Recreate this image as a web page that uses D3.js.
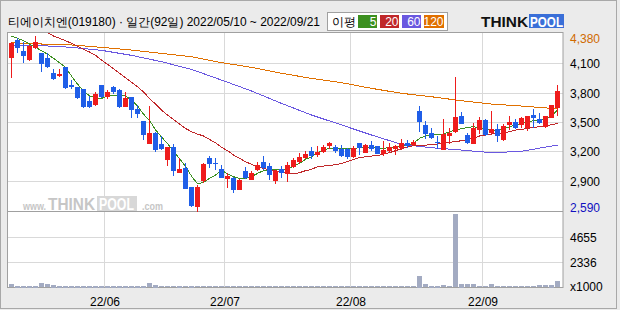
<!DOCTYPE html>
<html>
<head>
<meta charset="utf-8">
<script src="https://cdn.jsdelivr.net/npm/d3@7"></script>
<style>
  body { margin: 0; background: #fff; }
  text { font-family: "Liberation Sans", Arial, sans-serif; }
</style>
</head>
<body>
<svg width="620" height="310"></svg>
<script>
'use strict';

// daily candles 2022/05/10 ~ 2022/09/21 (92 trading days)
const open = [4168,4339,4226,4141,4271,4209,4158,4004,3977,4059, 3875,3854,3834,3717,3680,3878,3765,3854,3827,3666,
  3752,3632,3509,3287,3383,3274,3117,3240,2990,3025, 2830,2642,2905,3134,3080,3014,2926,2922,2816,2997,
  2919,3014,3090,3048,2905,3014,2980,3048,3103,3141, 3202,3171,3202,3267,3243,3226,3223,3151,3281,3195,
  3263,3253,3185,3212,3236,3240,3281,3274,3612,3465, 3383,3294,3219,3366,3410,3560,3362,3287,3431,3520,
  3400,3431,3321,3479,3499,3475,3451,3571,3526,3458, 3554,3656];
const high = [4322,4356,4322,4288,4380,4209,4202,4038,4038,4059, 3929,3854,3834,3765,3810,3878,3827,3868,3834,3810,
  3758,3673,3509,3663,3400,3356,3246,3274,3127,3083, 2837,2854,3083,3151,3134,3059,2973,2939,2919,3035,
  3001,3093,3151,3076,3008,3048,3093,3134,3178,3202, 3246,3253,3263,3298,3263,3263,3229,3253,3287,3270,
  3304,3253,3304,3281,3263,3321,3315,3315,3663,3513, 3434,3356,3526,3434,3963,3605,3390,3485,3547,3526,
  3612,3479,3479,3560,3526,3554,3560,3632,3595,3560, 3673,3878];
const low = [3963,4219,4117,4134,4260,4025,4066,3936,3970,3844, 3844,3741,3649,3656,3673,3758,3741,3793,3656,3663,
  3554,3547,3325,3281,3206,3223,3059,2956,2990,2820, 2639,2590,2888,3042,3014,2939,2837,2786,2813,2922,
  2915,3008,3014,2912,2871,2939,2898,3042,3076,3127, 3127,3151,3195,3229,3195,3154,3134,3144,3168,3188,
  3212,3178,3161,3195,3171,3226,3246,3267,3410,3339, 3332,3229,3219,3287,3400,3485,3281,3287,3383,3366,
  3390,3304,3315,3424,3441,3451,3417,3451,3485,3451, 3547,3571];
const close = [4311,4264,4185,4281,4315,4107,4076,3953,3991,3861, 3868,3758,3663,3663,3782,3765,3803,3820,3663,3748,
  3629,3588,3376,3383,3223,3229,3240,3008,3014,2827, 2649,2830,3066,3076,3076,2939,2950,2816,2905,2939,
  2973,3059,3042,2963,2997,2990,3059,3110,3144,3171, 3161,3192,3246,3287,3216,3161,3151,3236,3246,3263,
  3229,3185,3212,3246,3257,3281,3263,3298,3513,3390, 3349,3291,3376,3383,3547,3492,3298,3441,3520,3373,
  3427,3362,3458,3502,3451,3543,3560,3554,3496,3560, 3673,3820];
// volume, x1000 shares
const volume = [280,170,170,170,170,380,300,250,180,180, 180,180,180,180,150,150,150,150,150,150,
  150,150,150,380,240,130,130,130,150,130, 150,130,130,120,120,120,120,110,110,110,
  110,110,110,110,110,110,110,110,110,110, 110,110,110,110,110,110,110,110,110,110,
  110,110,110,110,110,110,110,110,1110,280, 150,150,220,100,6800,370,280,280,130,130,
  280,130,130,130,100,100,130,100,190,190, 250,560];

// moving averages
const ma5 = [4380,4356,4332,4298,4264,4230,4195,4151,4107,4059, 3970,3888,3820,3765,3748,3741,3765,3772,3776,3765,
  3724,3665,3580,3515,3420,3345,3280,3200,3125,3045, 2945,2866,2880,2922,2956,3008,2967,2939,2922,2922,
  2939,2973,3001,3008,3008,3014,3014,3048,3076,3117, 3140,3185,3212,3229,3229,3229,3226,3229,3236,3240,
  3240,3236,3229,3240,3246,3257,3263,3281,3332,3356, 3373,3373,3376,3400,3417,3431,3444,3451,3441,3424,
  3417,3417,3431,3451,3468,3480,3502,3513,3520,3537, 3560,3622];
const ma20 = [null,null,null,null,null,null,4414,4380,4356,4332, 4305,4277,4243,4216,4182,4134,4090,4045,3998,3953,
  3905,3861,3807,3741,3683,3622,3571,3526,3479,3434, 3400,3376,3356,3321,3287,3240,3206,3161,3127,3093,
  3066,3042,3025,3008,3001,2990,2967,2967,2980,3001, 3014,3042,3048,3055,3062,3076,3093,3117,3134,3144,
  3151,3154,3171,3185,3206,3226,3246,3257,3263,3263, 3267,3274,3281,3291,3298,3308,3321,3332,3356,3366,
  3376,3383,3390,3400,3417,3424,3434,3444,3451,3458, 3472,3485];
const maLongIdx = [0,5,10,15,20,25,30,35,40,45,50,55,60,65,70,75,80,85,90,91];
const ma60 = [4288,4281,4264,4233,4182,4117,4038,3929,3817,3690,3571,3469,3366,3270,3236,3212,3185,3199,3253,3263];
const ma120 = [4311,4298,4288,4264,4236,4202,4168,4107,4059,3998,3946,3902,3844,3793,3758,3717,3683,3663,3639,3636];

const monthIdx = [16, 36, 57, 79];
const monthLabels = ['22/06', '22/07', '22/08', '22/09'];
const priceGrid = [4100, 3800, 3500, 3200, 2900];
const priceMax = 4380, priceMin = 2590;
const volTicks = [4655, 2336];

const svg = d3.select('svg');
const W = 620, H = 310;
const pL = 8, pR = 563, pT = 33, pSep = 211.5, pB = 287.5;

const red = '#ee1c1c', blue = '#1f5ee8';

svg.append('rect').attr('width', W).attr('height', H).attr('fill', '#ebebeb');
svg.append('rect').attr('x', 0.5).attr('y', 0.5).attr('width', 616).attr('height', 308)
  .attr('fill', 'none').attr('stroke', '#a8a8a8');
svg.append('rect').attr('x', pL).attr('y', pT).attr('width', pR - pL).attr('height', pB - pT)
  .attr('fill', '#fff');

const x = d3.scaleBand().domain(d3.range(close.length)).range([pL, pL + 6 * close.length]);
const y = d3.scaleLinear().domain([priceMin, priceMax]).range([210.8, 36]);
const yv = d3.scaleLinear().domain([0, 4655]).range([pB, 237.3]);
const cx = i => x(i) + 3.5;

const grid = svg.append('g').attr('stroke', '#d9d9d9').attr('shape-rendering', 'crispEdges');
grid.selectAll('.hp').data(priceGrid).join('line')
  .attr('x1', pL).attr('x2', pR)
  .attr('y1', d => Math.round(y(d)) + 0.5).attr('y2', d => Math.round(y(d)) + 0.5);
grid.selectAll('.hv').data(volTicks).join('line')
  .attr('x1', pL).attr('x2', pR)
  .attr('y1', d => Math.round(yv(d)) + 0.5).attr('y2', d => Math.round(yv(d)) + 0.5);
grid.selectAll('.vm').data(monthIdx).join('line')
  .attr('x1', d => x(d) + 0.5).attr('x2', d => x(d) + 0.5)
  .attr('y1', pT).attr('y2', pB);

// watermark
const wm = svg.append('g').attr('fill', '#c6c6c6');
wm.append('text').attr('x', 23).attr('y', 210).attr('font-size', 10).attr('font-weight', 'bold')
  .attr('textLength', 23).attr('lengthAdjust', 'spacingAndGlyphs').text('www.');
wm.append('text').attr('x', 48).attr('y', 210).attr('font-size', 16).attr('font-weight', 900)
  .attr('font-family', 'DejaVu Sans').attr('textLength', 47).attr('lengthAdjust', 'spacingAndGlyphs').text('THINK');
wm.append('rect').attr('x', 97).attr('y', 196).attr('width', 40).attr('height', 15).attr('fill', '#d8d8d8');
wm.append('text').attr('x', 99).attr('y', 210).attr('font-size', 16).attr('font-weight', 900)
  .attr('font-family', 'DejaVu Sans').attr('fill', '#fff').attr('textLength', 35).attr('lengthAdjust', 'spacingAndGlyphs').text('POOL');
wm.append('text').attr('x', 142).attr('y', 210).attr('font-size', 10).attr('font-weight', 'bold')
  .attr('textLength', 21).attr('lengthAdjust', 'spacingAndGlyphs').text('.com');

// separator and frame
svg.append('line').attr('x1', pL).attr('x2', pR).attr('y1', pSep).attr('y2', pSep).attr('stroke', '#a0a0a0');
svg.append('rect').attr('x', pL - 0.5).attr('y', pT - 0.5).attr('width', pR - pL + 0.5)
  .attr('height', pB - pT + 0.5).attr('fill', 'none').attr('stroke', '#a0a0a0');

// moving averages
svg.append('clipPath').attr('id', 'pc').append('rect')
  .attr('x', pL).attr('y', pT).attr('width', pR - pL).attr('height', pSep - pT);
const lines = svg.append('g').attr('clip-path', 'url(#pc)').attr('fill', 'none')
  .attr('stroke-width', 1).attr('shape-rendering', 'crispEdges');
const lineFull = d3.line().defined(d => d != null).x((d, i) => cx(i)).y(d => y(d));
const lineSparse = d3.line().x((d, k) => cx(maLongIdx[k])).y(d => y(d));
lines.append('path').attr('d', lineSparse(ma120)).attr('stroke', '#e07000');
lines.append('path').attr('d', lineSparse(ma60)).attr('stroke', '#6a58e0');
lines.append('path').attr('d', lineFull(ma20)).attr('stroke', '#c0282a');
lines.append('path').attr('d', lineFull(ma5)).attr('stroke', '#3c9020');

// candles
const candles = svg.append('g').attr('shape-rendering', 'crispEdges');
const c = candles.selectAll('g').data(d3.range(close.length)).join('g')
  .attr('fill', i => close[i] >= open[i] ? red : blue)
  .attr('stroke', i => close[i] >= open[i] ? red : blue);
c.append('line')
  .attr('x1', cx).attr('x2', cx)
  .attr('y1', i => Math.round(y(high[i]))).attr('y2', i => Math.round(y(low[i])) + 1);
c.append('rect')
  .attr('stroke', 'none')
  .attr('x', i => x(i) + 1).attr('width', 5)
  .attr('y', i => Math.round(y(Math.max(open[i], close[i]))))
  .attr('height', i => Math.max(1, Math.round(y(Math.min(open[i], close[i]))) - Math.round(y(Math.max(open[i], close[i]))) + 1));

// volume
svg.append('g').attr('fill', '#a3abc2').attr('shape-rendering', 'crispEdges')
  .selectAll('rect').data(volume).join('rect')
  .attr('x', (d, i) => x(i) + 1).attr('width', 5)
  .attr('y', d => Math.round(yv(d)))
  .attr('height', d => Math.max(1, Math.round(pB - yv(d))));

// right axis labels
const ax = svg.append('g').attr('font-size', 12).attr('fill', '#000');
ax.selectAll('.pl').data(priceGrid).join('text')
  .attr('x', 570).attr('y', d => y(d) + 5).text(d => d3.format(',')(d));
ax.append('text').attr('x', 570).attr('y', 43).attr('fill', '#d06a00').text(d3.format(',')(priceMax));
ax.append('text').attr('x', 570).attr('y', 212).attr('fill', '#1010c0').text(d3.format(',')(priceMin));
ax.selectAll('.vl').data(volTicks).join('text')
  .attr('x', 570).attr('y', d => yv(d) + 5).text(d => d);
ax.append('text').attr('x', 570).attr('y', 291).text('x1000');

// month labels
svg.append('g').attr('font-size', 12).attr('text-anchor', 'middle')
  .selectAll('text').data(monthIdx).join('text')
  .attr('x', d => x(d) + 1).attr('y', 306).text((d, k) => monthLabels[k]);

// header
svg.append('text').attr('x', 8).attr('y', 26).attr('font-size', 12)
  .attr('font-family', '"Noto Sans CJK KR", sans-serif')
  .attr('textLength', 312).attr('lengthAdjust', 'spacingAndGlyphs')
  .text('티에이치엔(019180) · 일간(92일) 2022/05/10 ~ 2022/09/21');

const lg = svg.append('g');
lg.append('rect').attr('x', 327.5).attr('y', 12.5).attr('width', 120).attr('height', 18)
  .attr('fill', '#fff').attr('stroke', '#a0a0a0');
lg.append('text').attr('x', 332).attr('y', 26).attr('font-size', 12)
  .attr('font-family', '"Noto Sans CJK KR", sans-serif').text('이평');
const legItems = [['5', '#3c9020', 358], ['20', '#c0282a', 380], ['60', '#6a58e0', 402], ['120', '#e07000', 424]];
legItems.forEach(([t, col, lx]) => {
  lg.append('rect').attr('x', lx).attr('y', 15).attr('width', lx === 424 ? 20 : 19).attr('height', 13).attr('fill', col);
  lg.append('text').attr('x', lx + (lx === 424 ? 19.5 : 18.5)).attr('y', 26).attr('font-size', 12)
    .attr('text-anchor', 'end').attr('fill', '#fff').text(t);
});

// logo
const logo = svg.append('g');
logo.append('text').attr('x', 481).attr('y', 27).attr('font-size', 15).attr('font-weight', 900)
  .attr('font-family', 'DejaVu Sans').attr('textLength', 47).attr('lengthAdjust', 'spacingAndGlyphs')
  .attr('fill', '#111').text('THINK');
logo.append('rect').attr('x', 529).attr('y', 14).attr('width', 35).attr('height', 14).attr('fill', '#3a6fd8');
logo.append('text').attr('x', 530).attr('y', 27).attr('font-size', 15).attr('font-weight', 900)
  .attr('font-family', 'DejaVu Sans').attr('textLength', 33).attr('lengthAdjust', 'spacingAndGlyphs')
  .attr('fill', '#fff').text('POOL');
</script>
</body>
</html>
